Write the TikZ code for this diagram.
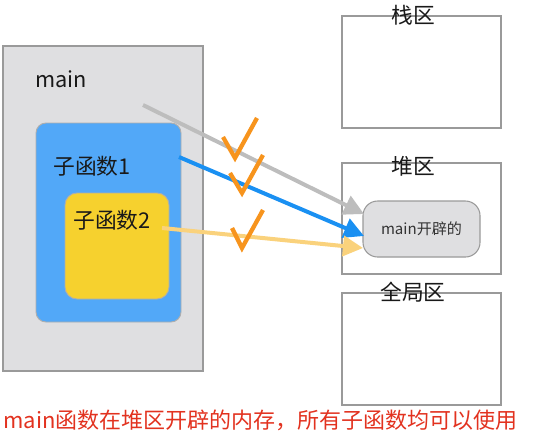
\documentclass[tikz,border=0pt]{standalone}
\usepackage{fontspec}
\setmainfont{Noto Sans CJK SC}
\usetikzlibrary{arrows.meta}
\definecolor{boxgray}{HTML}{DFDFE1}
\definecolor{edgegray}{HTML}{9A9A9A}
\definecolor{blockblue}{HTML}{52A8F8}
\definecolor{blockyellow}{HTML}{F6D12E}
\definecolor{arrgray}{HTML}{BDBDBD}
\definecolor{arrblue}{HTML}{1A90F2}
\definecolor{arryellow}{HTML}{FAD27C}
\definecolor{checkorange}{HTML}{F7941D}
\definecolor{notered}{HTML}{E2321F}
\begin{document}
\begin{tikzpicture}[x=0.75pt,y=-0.75pt,
  region/.style={draw=edgegray, line width=0.9pt, fill=white, inner sep=0pt},
  mainbox/.style={draw=edgegray, line width=0.9pt, fill=boxgray, inner sep=0pt},
  subone/.style={draw=edgegray!80, line width=0.7pt, fill=blockblue, rounded corners=7.5pt, inner sep=0pt},
  subtwo/.style={draw=edgegray!80, line width=0.7pt, fill=blockyellow, rounded corners=9pt, inner sep=0pt},
  heapobj/.style={draw=edgegray, line width=0.8pt, fill=boxgray, rounded corners=11pt, inner sep=0pt, font=\fontsize{11.3}{13}\selectfont, text=black!80},
  lbl/.style={font=\fontsize{16.3}{19}\selectfont, text=black!90, inner sep=0pt},
  link/.style={line width=3pt, -{Triangle[length=15pt,width=15pt]}},
  tick/.style={draw=checkorange, line width=3.2pt, line join=miter, line cap=butt}
]
\useasboundingbox (0,0) rectangle (534,447);

% left side
\node[mainbox, minimum width=150pt, minimum height=243.75pt] (main) at (103,208.5) {};
\node[lbl, anchor=west] (mainlbl) at (35,79) {main};
\node[subone, minimum width=108.75pt, minimum height=149.25pt] (sub1) at (108.5,222.5) {};
\node[lbl, anchor=west] (sub1lbl) at (53,166) {子函数1};
\node[subtwo, minimum width=78pt, minimum height=79.5pt] (sub2) at (117,246) {};
\node[lbl, anchor=west] (sub2lbl) at (73,220) {子函数2};

% right side
\node[region, minimum width=119.25pt, minimum height=84pt] (stack) at (421.5,72) {};
\node[lbl] (stacklbl) at (413,15) {栈区};
\node[region, minimum width=119.25pt, minimum height=83.25pt] (heap) at (421.5,218.5) {};
\node[lbl] (heaplbl) at (413,166) {堆区};
\node[region, minimum width=119.25pt, minimum height=84pt] (global) at (421.5,349) {};
\node[lbl] (globallbl) at (413,292) {全局区};
\node[heapobj, minimum width=87.75pt, minimum height=42pt] (obj) at (421.5,229) {main开辟的};

% connectors
\coordinate (gstart) at (143,105);
\coordinate (bstart) at (179,157);
\coordinate (ystart) at (162,228);
\coordinate (gend) at (364,214);
\coordinate (bend) at (364,236);
\coordinate (yend) at (363,248);
\draw[link, draw=arrgray, fill=arrgray] (gstart) -- (gend);
\draw[link, draw=arrblue, fill=arrblue] (bstart) -- (bend);
\draw[link, draw=arryellow, fill=arryellow] (ystart) -- (yend);

% check marks
\draw[tick] (223,137) -- (235,158) -- (257,118);
\draw[tick] (230,173) -- (242,193) -- (263,155);
\draw[tick] (232,228) -- (242,248) -- (263,210);

% note
\node[anchor=west, inner sep=0pt, text=notered, font=\fontsize{16.5}{19}\selectfont] (note) at (3,420) {main函数在堆区开辟的内存，所有子函数均可以使用};
\end{tikzpicture}
\end{document}
